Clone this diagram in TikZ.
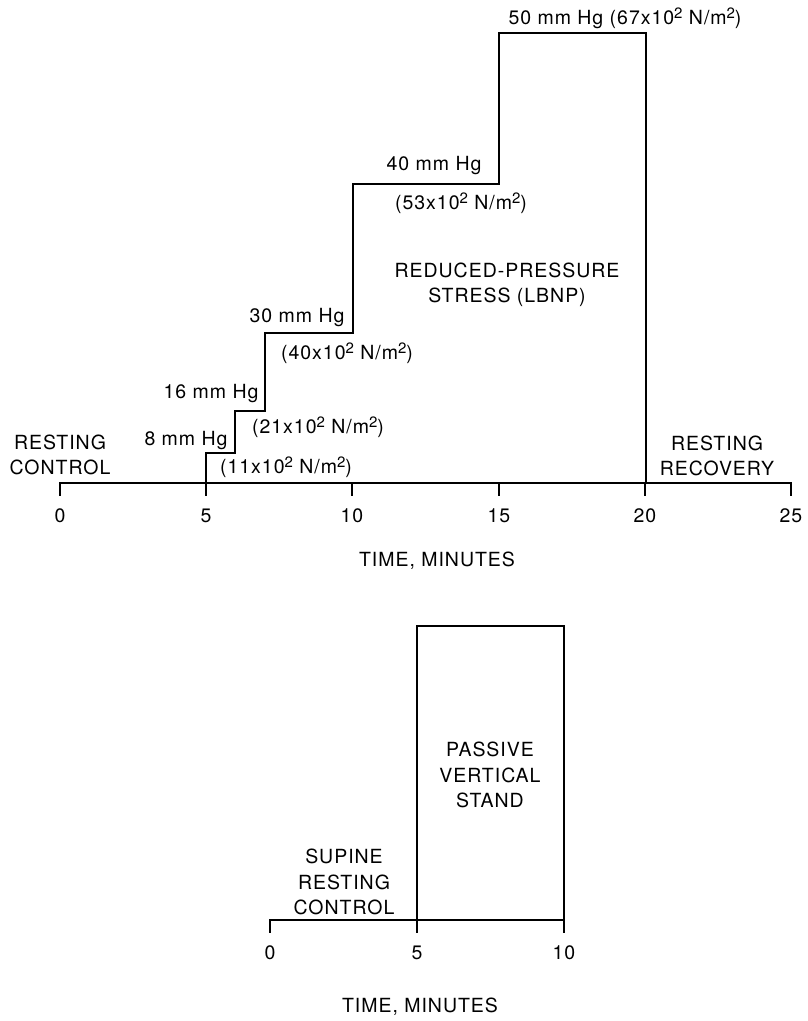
\documentclass[tikz,border=0pt]{standalone}
\usepackage{fontspec}
\setmainfont[LetterSpace=5]{TeX Gyre Heros}
\usepackage{tikz}
\usetikzlibrary{positioning}
\tikzset{
    curve/.style={draw=black, line width=2.5pt, line join=miter},
    axis/.style={draw=black, line width=2.2pt},
    tick/.style={draw=black, line width=2.2pt},
    lbl/.style={font=\fontsize{19.5}{25.5}\selectfont, inner sep=0pt, align=center},
}
\newcommand{\sq}{\raisebox{0.55ex}{\fontsize{15}{15}\selectfont 2}}

\begin{document}
\begin{tikzpicture}[x=1pt, y=-1pt]
		\useasboundingbox (0,0) rectangle (807,1021);
		% upper chart: lower body negative pressure
		\coordinate (a0) at (60,483);
		\coordinate (a25) at (791,483);
		\draw[axis] (a0) -- (a25);
		\foreach \m/\x in {0/60,5/206,10/352,15/499,20/645,25/791}{
			\draw[tick] (\x,482) -- (\x,496);
			\node[lbl] (ta\m) at (\x,516) {\m};
		}
		\draw[curve] (206,483) -- (206,453) -- (235,453) -- (235,411)
			-- (265,411) -- (265,333) -- (353,333) -- (353,184)
			-- (499,184) -- (499,33) -- (646,33) -- (646,483);
		%
		\node[lbl] (rest) at (60,455) {RESTING\\CONTROL};
		\node[lbl] (p8) at (186,441) {8 mm Hg};
		\node[lbl] (n8) at (286,467) {(11x10\sq{} N/m\sq)};
		\node[lbl] (p16) at (211,394) {16 mm Hg};
		\node[lbl] (n16) at (318,427) {(21x10\sq{} N/m\sq)};
		\node[lbl] (p30) at (297,318) {30 mm Hg};
		\node[lbl] (n30) at (347,353) {(40x10\sq{} N/m\sq)};
		\node[lbl] (p40) at (434,166) {40 mm Hg};
		\node[lbl] (n40) at (461,203) {(53x10\sq{} N/m\sq)};
		\node[lbl] (p50) at (625,18) {50 mm Hg (67x10\sq{} N/m\sq)};
		\node[lbl] (lbnp) at (507,285) {REDUCED-PRESSURE\\STRESS (LBNP)};
		\node[lbl] (recov) at (717,456) {RESTING\\RECOVERY};
		\node[lbl] (timea) at (437,561) {TIME, MINUTES};
		%
		% lower chart: tilt
		\coordinate (b0) at (270,920);
		\coordinate (b10) at (564,920);
		\draw[axis] (b0) -- (b10);
		\foreach \m/\x in {0/270,5/417,10/564}{
			\draw[tick] (\x,919) -- (\x,933);
			\node[lbl] (tb\m) at (\x,953) {\m};
		}
		\draw[curve] (417,920) -- (417,626) -- (564,626) -- (564,920);
		%
		\node[lbl] (supine) at (344,882) {SUPINE\\RESTING\\CONTROL};
		\node[lbl] (stand) at (490,775) {PASSIVE\\VERTICAL\\STAND};
		\node[lbl] (timeb) at (420,1007) {TIME, MINUTES};
	\end{tikzpicture}
\end{document}
